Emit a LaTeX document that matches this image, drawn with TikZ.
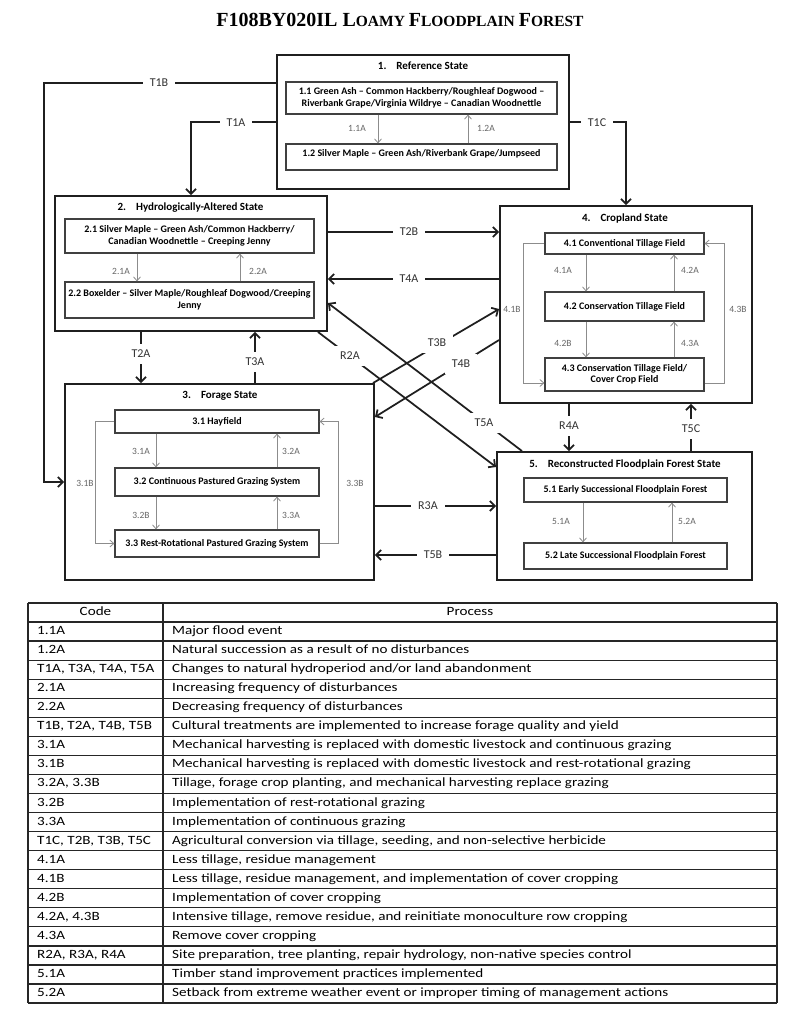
\documentclass[tikz,border=0pt]{standalone}
\usepackage{fontspec}
\setmainfont{Carlito}
\newfontfamily\titlefont{Liberation Serif}
\newfontfamily\tablefont[FakeStretch=1.2]{Carlito}
\usetikzlibrary{arrows.meta,shadows}
\newcommand\tbig{\fontsize{20}{24}\selectfont}
\newcommand\tsml{\fontsize{15.5}{18}\selectfont}
\begin{document}
\begin{tikzpicture}[x=1pt,y=-1pt,
  statebox/.style={draw=black!88, line width=1.9pt, inner sep=0pt},
  phasebox/.style={draw=black!75, fill=white, line width=1.2pt, inner sep=1pt, align=center,
    font=\bfseries\fontsize{10}{11.5}\selectfont,
    drop shadow={shadow xshift=0.7pt, shadow yshift=-1.1pt, fill=black!55, opacity=0.6}},
  stitle/.style={font=\bfseries\fontsize{11}{13}\selectfont, inner sep=0pt},
  trans/.style={draw=black!88, line width=1.75pt, -{Straight Barb[length=5pt,width=10pt]}},
  tlab/.style={fill=white, text=black!80, font=\fontsize{12}{14}\selectfont, inner xsep=7pt, inner ysep=6pt},
  pway/.style={draw=black!45, line width=0.8pt, -{Straight Barb[length=4pt,width=7pt]}},
  plab/.style={text=black!60, font=\fontsize{9.5}{11}\selectfont, inner sep=1pt},
  tcell/.style={font=\tablefont\fontsize{12.6}{14}\selectfont, anchor=west, inner sep=0pt,
    text height=8.5pt, text depth=2.5pt},
  thead/.style={font=\tablefont\fontsize{12.6}{14}\selectfont, inner sep=0pt,
    text height=8.5pt, text depth=2.5pt},
  tline/.style={draw=black!85, line width=1.3pt}
]
\useasboundingbox (0,0) rectangle (800,1023);
\fill[white] (0,0) rectangle (800,1023);

% title
\node[font=\titlefont\bfseries, inner sep=0pt] (title) at (400,20)
  {\tbig F108BY020IL L\tsml OAMY \tbig F\tsml LOODPLAIN \tbig F\tsml OREST};

% state boxes
\node[statebox, minimum width=292pt, minimum height=134pt] (s1) at (423,122) {};
\node[statebox, minimum width=272pt, minimum height=135pt] (s2) at (191,263.5) {};
\node[statebox, minimum width=309pt, minimum height=196pt] (s3) at (219.5,482) {};
\node[statebox, minimum width=252pt, minimum height=197pt] (s4) at (626,304.5) {};
\node[statebox, minimum width=255pt, minimum height=128pt] (s5) at (624.5,516) {};

\node[stitle] (s1t) at (423,66) {1.\hspace{10pt}Reference State};
\node[stitle] (s2t) at (190.5,208) {2.\hspace{10pt}Hydrologically-Altered State};
\node[stitle] (s3t) at (220,396) {3.\hspace{10pt}Forage State};
\node[stitle] (s4t) at (625,219) {4.\hspace{10pt}Cropland State};
\node[stitle] (s5t) at (625,464) {5.\hspace{10pt}Reconstructed Floodplain Forest State};

% community phase boxes
\node[phasebox, minimum width=271pt, minimum height=32pt] (p11) at (421.5,98)
  {1.1 Green Ash -- Common Hackberry/Roughleaf Dogwood --\\Riverbank Grape/Virginia Wildrye -- Canadian Woodnettle};
\node[phasebox, minimum width=271pt, minimum height=26pt, text depth=9pt] (p12) at (421.5,157)
  {1.2 Silver Maple -- Green Ash/Riverbank Grape/Jumpseed};
\node[phasebox, minimum width=249pt, minimum height=34pt] (p21) at (189.5,236)
  {2.1 Silver Maple -- Green Ash/Common Hackberry/\\Canadian Woodnettle -- Creeping Jenny};
\node[phasebox, minimum width=249pt, minimum height=36pt] (p22) at (189.5,300)
  {2.2 Boxelder -- Silver Maple/Roughleaf Dogwood/Creeping\\Jenny};
\node[phasebox, minimum width=204pt, minimum height=23pt] (p31) at (217,421.5) {3.1 Hayfield};
\node[phasebox, minimum width=204pt, minimum height=28pt] (p32) at (217,482) {3.2 Continuous Pastured Grazing System};
\node[phasebox, minimum width=204pt, minimum height=27pt] (p33) at (217,543.5) {3.3 Rest-Rotational Pastured Grazing System};
\node[phasebox, minimum width=159pt, minimum height=21pt] (p41) at (624.5,243.5) {4.1 Conventional Tillage Field};
\node[phasebox, minimum width=159pt, minimum height=29pt] (p42) at (624.5,306.5) {4.2 Conservation Tillage Field};
\node[phasebox, minimum width=159pt, minimum height=33pt] (p43) at (624.5,374.5) {4.3 Conservation Tillage Field/\\Cover Crop Field};
\node[phasebox, minimum width=203pt, minimum height=24pt] (p51) at (625.5,490) {5.1 Early Successional Floodplain Forest};
\node[phasebox, minimum width=203pt, minimum height=26pt] (p52) at (625.5,556) {5.2 Late Successional Floodplain Forest};

% community pathways
\draw[pway] ([xshift=-43.5pt]p11.south) -- ([xshift=-43.5pt]p12.north);
\draw[pway] ([xshift=46.5pt]p12.north) -- ([xshift=46.5pt]p11.south);
\draw[pway] ([xshift=-52.5pt]p21.south) -- ([xshift=-52.5pt]p22.north);
\draw[pway] ([xshift=50.5pt]p22.north) -- ([xshift=50.5pt]p21.south);
\draw[pway] ([xshift=-61pt]p31.south) -- ([xshift=-61pt]p32.north);
\draw[pway] ([xshift=60pt]p32.north) -- ([xshift=60pt]p31.south);
\draw[pway] ([xshift=-61pt]p32.south) -- ([xshift=-61pt]p33.north);
\draw[pway] ([xshift=60pt]p33.north) -- ([xshift=60pt]p32.south);
\draw[pway] (p31.west) -- ++(-19,0) |- (p33.west);
\draw[pway] (p33.east) -- ++(19,0) |- (p31.east);
\draw[pway] ([xshift=-38.5pt]p41.south) -- ([xshift=-38.5pt]p42.north);
\draw[pway] ([xshift=49.5pt]p42.north) -- ([xshift=49.5pt]p41.south);
\draw[pway] ([xshift=-38.5pt]p42.south) -- ([xshift=-38.5pt]p43.north);
\draw[pway] ([xshift=49.5pt]p43.north) -- ([xshift=49.5pt]p42.south);
\draw[pway] (p41.west) -- ++(-21,0) |- ([yshift=-8.5pt]p43.west);
\draw[pway] ([yshift=-8.5pt]p43.east) -- ++(20,0) |- (p41.east);
\draw[pway] ([xshift=-42.5pt]p51.south) -- ([xshift=-42.5pt]p52.north);
\draw[pway] ([xshift=46.5pt]p52.north) -- ([xshift=46.5pt]p51.south);

\node[plab] (l11A) at (357,128) {1.1A};
\node[plab] (l12A) at (486,128) {1.2A};
\node[plab] (l21A) at (121,271) {2.1A};
\node[plab] (l22A) at (258,271) {2.2A};
\node[plab] (l31A) at (141,451) {3.1A};
\node[plab] (l32A) at (291,451) {3.2A};
\node[plab] (l32B) at (141,515) {3.2B};
\node[plab] (l33A) at (291,515) {3.3A};
\node[plab] (l31B) at (85,483) {3.1B};
\node[plab] (l33B) at (355,483) {3.3B};
\node[plab] (l41A) at (563,270) {4.1A};
\node[plab] (l42A) at (690,270) {4.2A};
\node[plab] (l42B) at (563,343) {4.2B};
\node[plab] (l43A) at (690,343) {4.3A};
\node[plab] (l41B) at (512,309) {4.1B};
\node[plab] (l43B) at (738,309) {4.3B};
\node[plab] (l51A) at (561,521) {5.1A};
\node[plab] (l52A) at (687,521) {5.2A};

% transitions
\coordinate (aT2B) at ([yshift=31.5pt]s2.east);
\coordinate (aT4A) at ([yshift=-15.5pt]s2.east);
\coordinate (aT2A) at ([xshift=-50pt]s2.south);
\coordinate (aT3A) at ([xshift=64pt]s2.south);
\coordinate (aR3A) at ([yshift=-24pt]s3.east);
\coordinate (aT5B) at ([yshift=-73pt]s3.east);
\coordinate (aR4A) at ([xshift=-57pt]s4.south);
\coordinate (aT5C) at ([xshift=65pt]s4.south);

\draw[trans] ([yshift=39pt]s1.west) -| ([xshift=-20pt]s3.west) -- (s3.west);
\draw[trans] (s1.west) -| (s2.north);
\draw[trans] (s1.east) -| (s4.north);
\draw[trans] (aT2B) -- (aT2B -| s4.west);
\draw[trans] (aT4A -| s4.west) -- (aT4A);
\draw[trans] (aT2A) -- (aT2A |- s3.north);
\draw[trans] (aT3A |- s3.north) -- (aT3A);
\draw[trans] ([xshift=-10pt]s2.south east) -- ([yshift=49pt]s5.west);
\draw[trans] ([xshift=-102.5pt]s5.north) -- ([yshift=-39.5pt]s2.east);
\draw[trans] ([xshift=-2pt]s3.north east) -- ([yshift=-4.5pt]s4.west);
\draw[trans] ([yshift=-35.5pt]s4.west) -- ([yshift=65pt]s3.east);
\draw[trans] (aR3A) -- (aR3A -| s5.west);
\draw[trans] (aT5B -| s5.west) -- (aT5B);
\draw[trans] (aR4A) -- (aR4A |- s5.north);
\draw[trans] (aT5C |- s5.north) -- (aT5C);

\node[tlab] (lT1B) at (159,83) {T1B};
\node[tlab] (lT1A) at (236,123) {T1A};
\node[tlab] (lT1C) at (597,123) {T1C};
\node[tlab] (lT2B) at (409,232) {T2B};
\node[tlab] (lT4A) at (409,279) {T4A};
\node[tlab] (lT2A) at (141,354) {T2A};
\node[tlab] (lT3A) at (255,362) {T3A};
\node[tlab] (lR2A) at (350,356) {R2A};
\node[tlab] (lT3B) at (437,343) {T3B};
\node[tlab] (lT4B) at (461,364) {T4B};
\node[tlab] (lT5A) at (484,423) {T5A};
\node[tlab] (lR3A) at (428,506) {R3A};
\node[tlab] (lT5B) at (433,555) {T5B};
\node[tlab] (lR4A) at (569,426) {R4A};
\node[tlab] (lT5C) at (691,429) {T5C};

% table
\foreach \k in {0,...,21} {
  \draw[tline] (28,{603+\k*19.048}) -- (777,{603+\k*19.048});
}
\draw[tline] (28,603) -- (28,1003);
\draw[tline] (163,603) -- (163,1003);
\draw[tline] (777,603) -- (777,1003);
\node[thead] (hcode) at (95.5,612.5) {Code};
\node[thead] (hproc) at (470,612.5) {Process};
\foreach \i/\c/\d in {
 1/{1.1A}/{Major flood event},
 2/{1.2A}/{Natural succession as a result of no disturbances},
 3/{T1A, T3A, T4A, T5A}/{Changes to natural hydroperiod and/or land abandonment},
 4/{2.1A}/{Increasing frequency of disturbances},
 5/{2.2A}/{Decreasing frequency of disturbances},
 6/{T1B, T2A, T4B, T5B}/{Cultural treatments are implemented to increase forage quality and yield},
 7/{3.1A}/{Mechanical harvesting is replaced with domestic livestock and continuous grazing},
 8/{3.1B}/{Mechanical harvesting is replaced with domestic livestock and rest-rotational grazing},
 9/{3.2A, 3.3B}/{Tillage, forage crop planting, and mechanical harvesting replace grazing},
 10/{3.2B}/{Implementation of rest-rotational grazing},
 11/{3.3A}/{Implementation of continuous grazing},
 12/{T1C, T2B, T3B, T5C}/{Agricultural conversion via tillage, seeding, and non-selective herbicide},
 13/{4.1A}/{Less tillage, residue management},
 14/{4.1B}/{Less tillage, residue management, and implementation of cover cropping},
 15/{4.2B}/{Implementation of cover cropping},
 16/{4.2A, 4.3B}/{Intensive tillage, remove residue, and reinitiate monoculture row cropping},
 17/{4.3A}/{Remove cover cropping},
 18/{R2A, R3A, R4A}/{Site preparation, tree planting, repair hydrology, non-native species control},
 19/{5.1A}/{Timber stand improvement practices implemented},
 20/{5.2A}/{Setback from extreme weather event or improper timing of management actions}} {
  \node[tcell] (code\i) at (37,{603+(\i+0.5)*19.048}) {\c};
  \node[tcell] (proc\i) at (172,{603+(\i+0.5)*19.048}) {\d};
}
\end{tikzpicture}
\end{document}
